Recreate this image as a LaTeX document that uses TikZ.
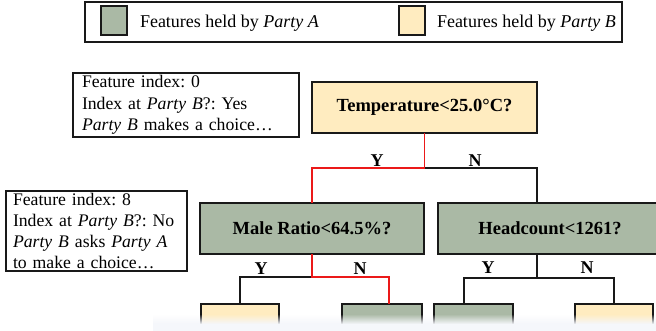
\documentclass[tikz,border=0pt]{standalone}
\usepackage{fontspec}
\setmainfont{Liberation Serif}
\usetikzlibrary{calc}
\definecolor{partyA}{RGB}{170,185,165}
\definecolor{partyB}{RGB}{255,236,192}
\definecolor{edge}{RGB}{25,25,25}
\definecolor{hot}{RGB}{235,25,25}
\definecolor{band}{RGB}{245,247,251}
\frenchspacing
\begin{document}
\begin{tikzpicture}[x=1pt,y=-1pt,
 every node/.style={inner sep=0pt, outer sep=0pt},
 legendbox/.style={draw=edge, line width=1.2pt, minimum width=537pt, minimum height=40pt},
 swatch/.style={draw=edge, line width=2pt, minimum width=26pt, minimum height=29pt},
 legtext/.style={anchor=base west, font=\fontsize{18}{21}\selectfont},
 infobox/.style={draw=edge, line width=1.6pt, align=left, font=\fontsize{17.7}{21.3}\selectfont},
 testbox/.style={draw=edge, line width=1.6pt, minimum width=224pt, minimum height=51pt, font=\bfseries\fontsize{18.5}{22}\selectfont},
 leafbox/.style={draw=edge, line width=1.6pt, minimum height=60pt, anchor=north},
 link/.style={draw=edge, line width=1.5pt},
 hotlink/.style={draw=hot, line width=1.6pt},
 branch/.style={font=\bfseries\fontsize{18}{20}\selectfont},
]
\useasboundingbox (0,0) rectangle (656,331);
\clip (0,0) rectangle (656,331);
\fill[white] (0,0) rectangle (656,331);

% legend
\node[legendbox] (legend) at (353.5,22) {};
\node[swatch, fill=partyA] (swA) at (114,20.5) {};
\node[legtext] (txtA) at (140,28) {Features held by \textit{Party A}};
\node[swatch, fill=partyB] (swB) at (411.5,20.5) {};
\node[legtext] (txtB) at (437,28) {Features held by \textit{Party B}};

% info boxes
\node[infobox, text width=208pt, minimum height=64pt, inner xsep=9pt] (info1) at (186,105)
  {Feature index: 0\\Index at \textit{Party B}?: Yes\\\textit{Party B} makes a choice\dots};
\node[infobox, text width=167pt, minimum height=80pt, inner xsep=7pt] (info2) at (96.5,231)
  {Feature index: 8\\Index at \textit{Party B}?: No\\\textit{Party B} asks \textit{Party A}\\to make a choice\dots};

% tests
\node[testbox, fill=partyB, minimum width=225pt] (temp) at (424.5,107.5) {Temperature<25.0°C?};
\node[testbox, fill=partyA] (male) at (312,228.5) {Male Ratio<64.5\%?};
\node[testbox, fill=partyA] (head) at (550,228.5) {Headcount<1261?};

% leaves
\node[leafbox, fill=partyB, minimum width=78pt] (leaf1) at (240,304) {};
\node[leafbox, fill=partyA, minimum width=80pt] (leaf2) at (382,304) {};
\node[leafbox, fill=partyA, minimum width=79pt] (leaf3) at (473.5,304) {};
\node[leafbox, fill=partyB, minimum width=78pt] (leaf4) at (614,304) {};

% connectors
\path (temp.south) ++(0,35) coordinate (jT);
\coordinate (hN) at ($(head.north)+(-13,0)$);
\coordinate (hS) at ($(head.south)+(-13,0)$);
\path (hS) ++(0,24) coordinate (jH);
\path (male.south) ++(0,23) coordinate (jM);
\coordinate (l2N) at ($(leaf2.north)+(7,0)$);
\coordinate (l3N) at ($(leaf3.north)+(-9.5,0)$);

\draw[link] (jT) -| (hN);
\draw[hotlink] (temp.south) -- (jT) -| (male.north);
\draw[link] (jM) -| (leaf1.north);
\draw[hotlink] (male.south) -- (jM) -| (l2N);
\draw[link] (hS) -- (jH);
\draw[link] (l3N) |- (jH) -| (leaf4.north);

% branch labels
\node[branch] (yT) at (377,161) {Y};
\node[branch] (nT) at (475,161) {N};
\node[branch] (yM) at (261,269) {Y};
\node[branch] (nM) at (360,269) {N};
\node[branch] (yH) at (488,268) {Y};
\node[branch] (nH) at (587,268) {N};

% bottom fade
\foreach \i in {1,...,10} {
  \fill[band, opacity=\i/10] (153,314+\i) rectangle (656,315+\i);
}
\fill[band] (153,325) rectangle (656,331);
\end{tikzpicture}
\end{document}
